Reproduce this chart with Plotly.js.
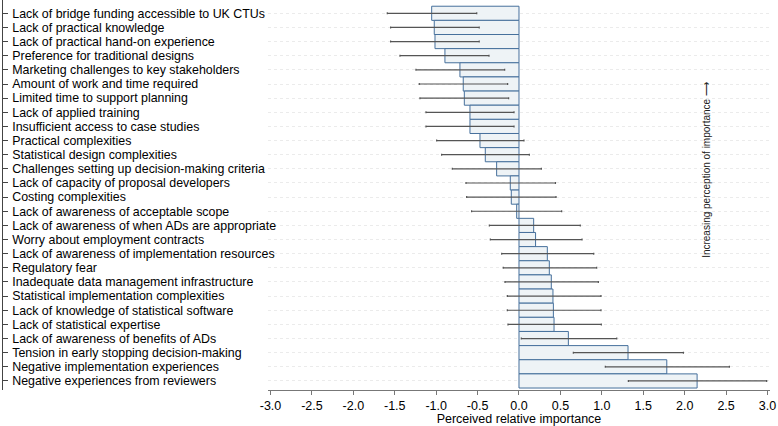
<!DOCTYPE html>
<html>
<head>
<meta charset="utf-8">
<script src="https://cdn.plot.ly/plotly-3.0.1.min.js"></script>
<style>
  html, body { margin: 0; padding: 0; background: #fff; }
  #chart { width: 778px; height: 426px; }
</style>
</head>
<body>
<div id="chart"></div>
<script>
// barriers, top to bottom as in the figure
var barriers = [
  'Lack of bridge funding accessible to UK CTUs',
  'Lack of practical knowledge',
  'Lack of practical hand-on experience',
  'Preference for traditional designs',
  'Marketing challenges to key stakeholders',
  'Amount of work and time required',
  'Limited time to support planning',
  'Lack of applied training',
  'Insufficient access to case studies',
  'Practical complexities',
  'Statistical design complexities',
  'Challenges setting up decision-making criteria',
  'Lack of capacity of proposal developers',
  'Costing complexities',
  'Lack of awareness of acceptable scope',
  'Lack of awareness of when ADs are appropriate',
  'Worry about employment contracts',
  'Lack of awareness of implementation resources',
  'Regulatory fear',
  'Inadequate data management infrastructure',
  'Statistical implementation complexities',
  'Lack of knowledge of statistical software',
  'Lack of statistical expertise',
  'Lack of awareness of benefits of ADs',
  'Tension in early stopping decision-making',
  'Negative implementation experiences',
  'Negative experiences from reviewers'
];

var importance = [-1.054, -1.023, -1.014, -0.894, -0.713, -0.673, -0.66, -0.592, -0.592,
  -0.471, -0.407, -0.27, -0.105, -0.093, -0.028, 0.177, 0.2, 0.342, 0.366, 0.39,
  0.41, 0.415, 0.423, 0.596, 1.316, 1.784, 2.15];

var ciLow = [-1.59, -1.55, -1.55, -1.437, -1.244, -1.204, -1.196, -1.123, -1.123,
  -0.994, -0.934, -0.805, -0.64, -0.632, -0.572, -0.358, -0.346, -0.209, -0.19, -0.169,
  -0.141, -0.141, -0.133, 0.028, 0.656, 1.042, 1.32];

var ciHigh = [-0.51, -0.48, -0.48, -0.362, -0.173, -0.137, -0.125, -0.06, -0.06,
  0.06, 0.125, 0.27, 0.44, 0.447, 0.515, 0.74, 0.761, 0.902, 0.938, 0.958,
  0.99, 0.99, 0.994, 1.18, 1.985, 2.54, 2.99];

var xTicks = [-3, -2.5, -2, -1.5, -1, -0.5, 0, 0.5, 1, 1.5, 2, 2.5, 3];
var xTickLabels = ['-3.0', '-2.5', '-2.0', '-1.5', '-1.0', '-0.5', '0.0', '0.5', '1.0', '1.5', '2.0', '2.5', '3.0'];

var font = '"Liberation Sans", Arial, sans-serif';

var trace = {
  type: 'bar',
  orientation: 'h',
  y: barriers,
  x: importance,
  marker: {
    color: '#eef3f6',
    line: { color: '#46709c', width: 1 }
  },
  error_x: {
    type: 'data',
    symmetric: false,
    array: importance.map(function(v, i) { return ciHigh[i] - v; }),
    arrayminus: importance.map(function(v, i) { return v - ciLow[i]; }),
    color: '#555555',
    thickness: 1.2,
    width: 1
  },
  hoverinfo: 'x+y'
};

var layout = {
  width: 778,
  height: 426,
  margin: { l: 1, r: 8, t: 0, b: 36 },
  paper_bgcolor: '#ffffff',
  plot_bgcolor: '#ffffff',
  bargap: 0,
  showlegend: false,
  font: { family: font, size: 12, color: '#000' },
  xaxis: {
    domain: [0.3472, 1],
    range: [-3.03, 3.03],
    tickvals: xTicks,
    ticktext: xTickLabels,
    ticks: 'outside',
    ticklen: 4,
    tickcolor: '#777',
    showline: true,
    linecolor: '#777',
    linewidth: 1,
    showgrid: false,
    zeroline: false,
    tickfont: { size: 12.5, color: '#000' },
    title: { text: 'Perceived relative importance', font: { size: 12.5 }, standoff: 2 }
  },
  yaxis: {
    type: 'category',
    range: [26.64, -0.94],
    anchor: 'free',
    position: 0.001,
    side: 'right',
    tickmode: 'linear',
    tick0: 0,
    dtick: 1,
    ticks: 'outside',
    ticklen: 5,
    tickcolor: '#444',
    ticklabelstandoff: 2,
    showline: true,
    linecolor: '#444',
    linewidth: 1,
    showgrid: true,
    gridcolor: '#ebebeb',
    griddash: 'dot',
    gridwidth: 1,
    zeroline: false,
    tickfont: { size: 12.4, color: '#000' }
  },
  annotations: [{
    xref: 'x',
    yref: 'paper',
    x: 2.26,
    y: 0.565,
    text: 'Increasing perception of importance \u27f6',
    textangle: -90,
    showarrow: false,
    font: { family: font, size: 10, color: '#222' }
  }]
};

Plotly.newPlot('chart', [trace], layout, { displayModeBar: false, staticPlot: true });
</script>
</body>
</html>
